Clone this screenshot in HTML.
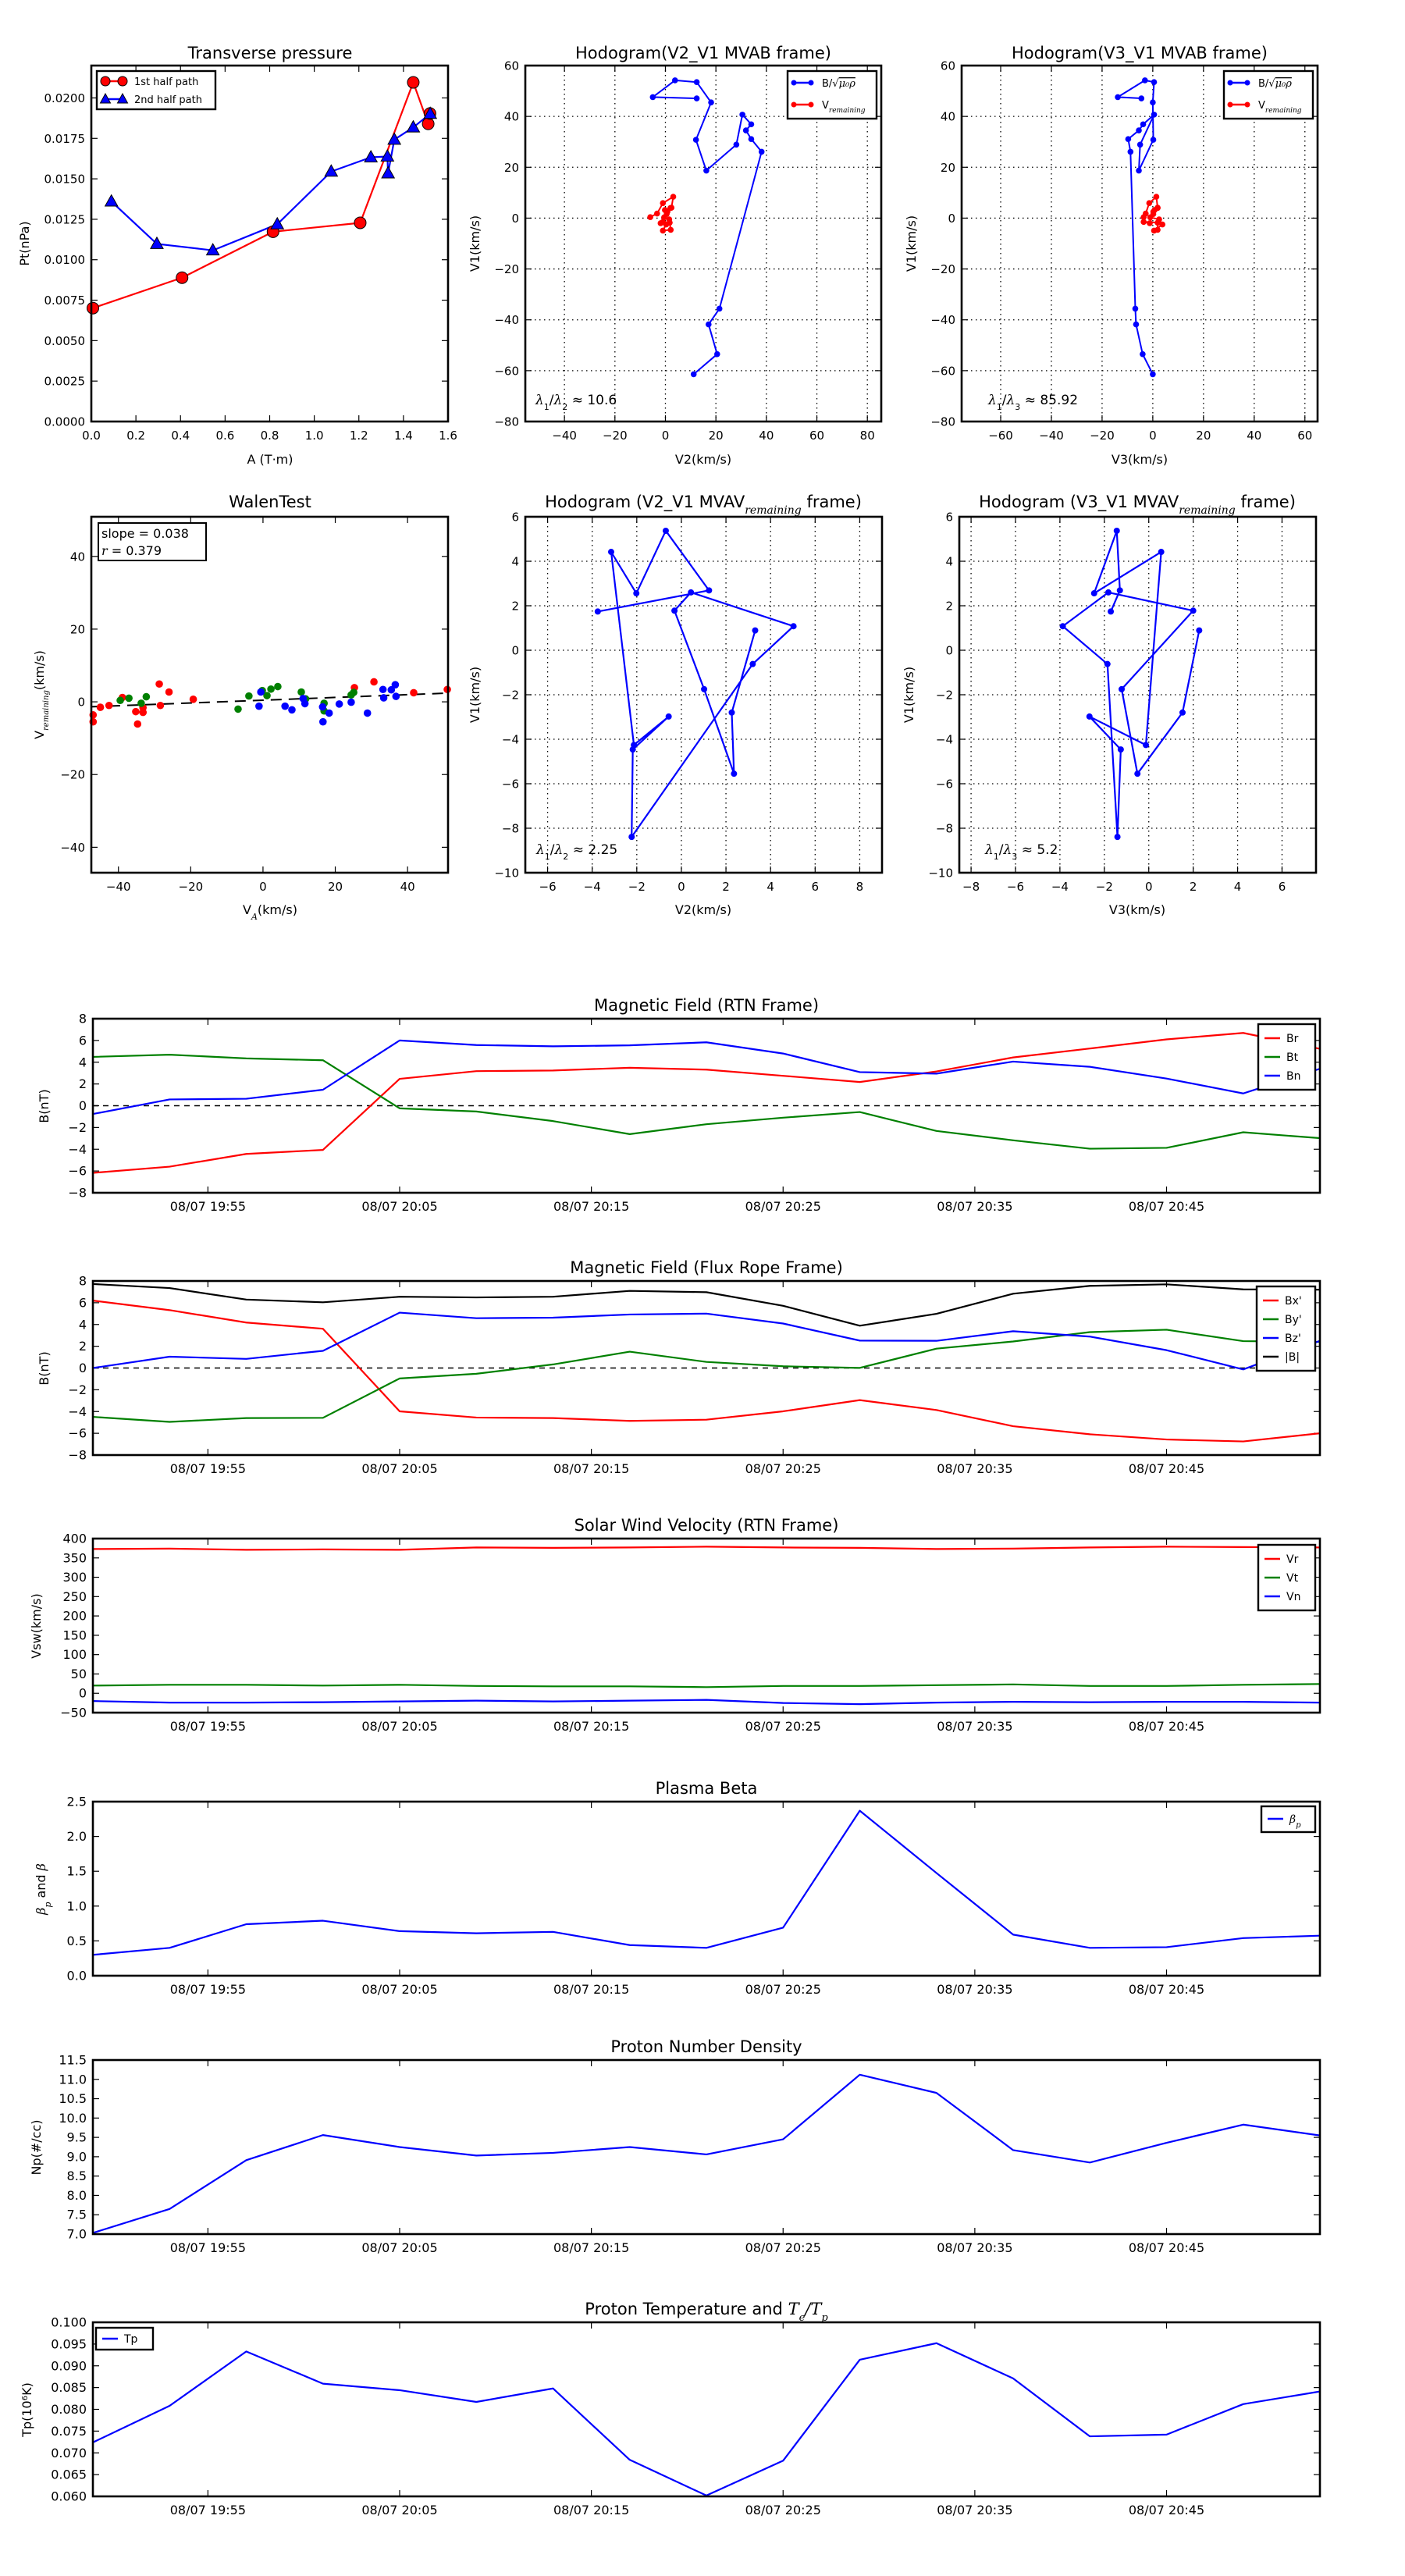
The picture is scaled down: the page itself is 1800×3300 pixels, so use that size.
<!DOCTYPE html>
<html><head><meta charset="utf-8"><title>Flux rope analysis</title>
<style>
html,body{margin:0;padding:0;background:#fff;}
svg{display:block;font-family:"DejaVu Sans","Liberation Sans",sans-serif;}
</style></head>
<body>
<svg id="fig" xmlns="http://www.w3.org/2000/svg" width="1800" height="3300" viewBox="0 0 1800 3300">
<rect x="0" y="0" width="1800" height="3300" fill="#fff"/>
<defs id="defs"></defs>
</svg>
<script>
// ---------- Transverse pressure data ----------
const ptHalf1A = [0.007, 0.407, 0.815, 1.206, 1.444, 1.511, 1.519];
const ptHalf1P = [0.00701, 0.00889, 0.01173, 0.01228, 0.02096, 0.01840, 0.01904];
const ptHalf2A = [0.09, 0.294, 0.545, 0.834, 1.076, 1.254, 1.328, 1.331, 1.359, 1.444, 1.52];
const ptHalf2P = [0.0136, 0.01098, 0.01058, 0.01219, 0.01545, 0.01633, 0.01638, 0.01534, 0.01742, 0.01818, 0.01902];
const ptXTicks = [0, 0.2, 0.4, 0.6, 0.8, 1.0, 1.2, 1.4, 1.6];
const ptYTicks = [0, 0.0025, 0.005, 0.0075, 0.01, 0.0125, 0.015, 0.0175, 0.02];
// ---------- MVAB hodogram data ----------
const mvabV1 = [-61.4, -53.5, -41.8, -35.6, 26.1, 31.1, 34.5, 36.9, 40.7, 28.9, 18.7, 30.8, 45.5, 53.5, 54.2, 47.6, 47.1];
const mvabV2 = [11.2, 20.5, 17.1, 21.4, 38.1, 34.0, 31.9, 34.0, 30.5, 28.1, 16.2, 12.1, 18.1, 12.4, 3.8, -5.0, 12.4];
const mvabV3 = [0.0, -4.0, -6.6, -6.9, -8.8, -9.7, -5.5, -3.8, 0.5, -5.0, -5.5, 0.2, 0.0, 0.5, -3.1, -13.8, -4.5];
const remV1 = [0.4, 1.8, 5.9, 8.4, 4.1, 3.2, 1.6, -2.0, -1.5, -1.8, -4.6, -4.9, -2.5, -0.5, 0.3, 2.5, 4.0];
const remV2 = [-6.0, -3.3, -1.0, 3.1, 2.4, -0.2, 0.5, -1.9, -1.0, 1.7, 2.1, -1.0, 0.3, 1.5, -0.5, 0.8, 2.0];
const remV3 = [-3.6, -2.8, -1.4, 1.4, 1.9, 0.7, 0.2, -1.2, -3.6, 1.9, 1.9, 0.5, 3.8, 2.5, -1.0, 0.2, 1.9];
// ---------- MVAV hodogram data ----------
const mvavV1 = [1.74, 2.69, 5.37, 2.56, 4.42, -4.26, -2.98, -4.46, -8.39, -0.62, 1.08, 2.60, 1.78, -1.75, -5.55, -2.80, 0.89];
const mvavV2 = [-3.75, 1.24, -0.70, -2.02, -3.15, -2.13, -0.57, -2.18, -2.23, 3.20, 5.03, 0.43, -0.31, 1.02, 2.36, 2.26, 3.31];
const mvavV3 = [-1.71, -1.30, -1.44, -2.46, 0.56, -0.13, -2.67, -1.26, -1.41, -1.86, -3.87, -1.82, 2.00, -1.22, -0.51, 1.52, 2.27];
// ---------- Walen test data ----------
const walenRedX = [-47, -47, -45, -42.6, -38.9, -35.2, -34.7, -33.2, -33.2, -28.7, -28.4, -26, -19.3, 25.3, 30.7, 41.7, 51];
const walenRedY = [-3.6, -5.5, -1.5, -1.0, 1.2, -2.7, -6.1, -1.6, -2.9, 4.9, -1.0, 2.7, 0.7, 3.9, 5.5, 2.5, 3.4];
const walenGreenX = [-39.5, -37.1, -33.7, -32.3, -6.9, -3.9, -0.2, 1.1, 2.2, 4.1, 10.6, 11.8, 16.9, 16.9, 24.4, 25.1];
const walenGreenY = [0.4, 1.0, -0.4, 1.4, -2.0, 1.6, 3.1, 1.7, 3.5, 4.2, 2.7, 0.8, -0.4, -2.5, 1.9, 2.6];
const walenBlueX = [-0.6, -1.1, 6.1, 8.0, 11.1, 11.6, 16.5, 16.6, 18.3, 21.1, 24.4, 28.9, 33.2, 33.4, 35.5, 36.6, 36.8];
const walenBlueY = [2.7, -1.2, -1.2, -2.2, 0.9, -0.5, -1.4, -5.5, -3.1, -0.6, -0.1, -3.1, 3.4, 1.1, 3.3, 4.7, 1.5];
const walenSlope = 0.038;
const walenIntercept = 0.45;
// ---------- Time series data ----------
const times = ['19:49','19:53','19:57','20:01','20:05','20:09','20:13','20:17','20:21','20:25','20:29','20:33','20:37','20:41','20:45','20:49','20:53'];
const timeTickLabels = ['08/07 19:55','08/07 20:05','08/07 20:15','08/07 20:25','08/07 20:35','08/07 20:45'];
const Br = [-6.17, -5.6, -4.43, -4.06, 2.47, 3.18, 3.24, 3.49, 3.32, 2.75, 2.18, 3.15, 4.44, 5.26, 6.1, 6.69, 5.23];
const Bt = [4.49, 4.69, 4.35, 4.18, -0.24, -0.53, -1.41, -2.61, -1.7, -1.1, -0.58, -2.32, -3.18, -3.95, -3.87, -2.44, -2.98];
const Bn = [-0.76, 0.58, 0.64, 1.47, 6.0, 5.58, 5.46, 5.55, 5.83, 4.8, 3.09, 2.95, 4.06, 3.58, 2.5, 1.13, 3.4];
const Bx = [6.2, 5.32, 4.18, 3.61, -3.98, -4.55, -4.6, -4.86, -4.75, -3.98, -2.95, -3.86, -5.35, -6.09, -6.57, -6.75, -6.0];
const By = [-4.49, -4.95, -4.6, -4.58, -0.96, -0.53, 0.33, 1.5, 0.56, 0.16, 0.01, 1.78, 2.44, 3.3, 3.52, 2.47, 2.4];
const Bz = [0.0, 1.04, 0.84, 1.58, 5.09, 4.58, 4.63, 4.92, 5.0, 4.09, 2.52, 2.5, 3.38, 2.89, 1.64, -0.13, 2.5];
const Bmag = [7.72, 7.35, 6.29, 6.04, 6.55, 6.49, 6.55, 7.09, 6.97, 5.72, 3.89, 4.98, 6.83, 7.55, 7.69, 7.23, 7.2];
const Vr = [373, 374, 371, 372, 371, 377, 376, 377, 379, 377, 376, 373, 374, 377, 379, 378, 377];
const Vt = [20, 22, 22, 20, 22, 19, 18, 18, 16, 19, 19, 21, 23, 19, 19, 22, 24];
const Vn = [-20, -24, -24, -23, -21, -19, -21, -19, -17, -25, -28, -24, -22, -23, -22, -22, -24];
const betaP = [0.30, 0.40, 0.74, 0.79, 0.64, 0.61, 0.63, 0.44, 0.40, 0.69, 2.37, 1.475, 0.59, 0.40, 0.41, 0.54, 0.575];
const Np = [7.03, 7.65, 8.91, 9.56, 9.25, 9.03, 9.1, 9.25, 9.06, 9.45, 11.12, 10.65, 9.17, 8.85, 9.36, 9.83, 9.55];
const Tp = [0.0724, 0.0808, 0.0933, 0.0859, 0.0844, 0.0817, 0.0848, 0.0684, 0.0602, 0.0682, 0.0914, 0.0952, 0.0871, 0.0738, 0.0742, 0.0812, 0.0841];

const NS = 'http://www.w3.org/2000/svg';
const svg = document.getElementById('fig');
const defs = document.getElementById('defs');
let clipCount = 0;
function mk(tag, parent) { const e = document.createElementNS(NS, tag); parent.appendChild(e); return e; }
function fmtNum(v, d) { const s = Math.abs(v).toFixed(d); return (v < -1e-12 ? '\u2212' : '') + s; }
function toMin(s) { const p = s.split(':'); return (+p[0]) * 60 + (+p[1]) - (19 * 60 + 49); }

function text(parent, x, y, s, size, anchor, name) {
  const t = mk('text', parent);
  t.setAttribute('x', x); t.setAttribute('y', y);
  t.setAttribute('font-size', size);
  t.setAttribute('text-anchor', anchor);
  t.textContent = s;
  
  
  return t;
}
function tspan(t, s, opts) {
  const ts = mk('tspan', t);
  ts.textContent = s;
  if (opts.sub) { ts.setAttribute('baseline-shift', 'sub'); }
  if (opts.size) ts.setAttribute('font-size', opts.size);
  if (opts.italic) { ts.setAttribute('font-style', 'italic'); ts.setAttribute('font-family', '"DejaVu Serif","Liberation Serif",serif'); }
  if (opts.over) ts.setAttribute('text-decoration', 'overline');
  return ts;
}

function axes(o) {
  const g = mk('g', svg);
  
  
  const sx = v => o.L + (v - o.xmin) / (o.xmax - o.xmin) * (o.R - o.L);
  const sy = v => o.B - (v - o.ymin) / (o.ymax - o.ymin) * (o.B - o.T);
  const cp = mk('clipPath', defs);
  const cid = 'clip' + (clipCount++);
  cp.setAttribute('id', cid);
  const cr = mk('rect', cp);
  cr.setAttribute('x', o.L); cr.setAttribute('y', o.T);
  cr.setAttribute('width', o.R - o.L); cr.setAttribute('height', o.B - o.T);
  const tickSize = o.tickSize || 15;
  // grid
  if (o.grid) {
    const gg = mk('g', g);
    
    
    o.xt.forEach(v => {
      const l = mk('line', gg);
      l.setAttribute('x1', sx(v)); l.setAttribute('x2', sx(v)); l.setAttribute('y1', o.T); l.setAttribute('y2', o.B);
      l.setAttribute('stroke', '#000'); l.setAttribute('stroke-width', 1.3); l.setAttribute('stroke-dasharray', '1.5,4.5');
    });
    o.yt.forEach(v => {
      const l = mk('line', gg);
      l.setAttribute('x1', o.L); l.setAttribute('x2', o.R); l.setAttribute('y1', sy(v)); l.setAttribute('y2', sy(v));
      l.setAttribute('stroke', '#000'); l.setAttribute('stroke-width', 1.3); l.setAttribute('stroke-dasharray', '1.5,4.5');
    });
  }
  // ticks
  const tg = mk('g', g);
  
  
  o.xt.forEach((v, i) => {
    const x = sx(v);
    [[o.B, o.B - 8], [o.T, o.T + 8]].forEach(p => {
      const l = mk('line', tg);
      l.setAttribute('x1', x); l.setAttribute('x2', x); l.setAttribute('y1', p[0]); l.setAttribute('y2', p[1]);
      l.setAttribute('stroke', '#000'); l.setAttribute('stroke-width', 1.2);
    });
    text(tg, x, o.B + 23, o.xlab[i], tickSize, 'middle', 'x-tick-label');
  });
  o.yt.forEach((v, i) => {
    const y = sy(v);
    [[o.L, o.L + 8], [o.R, o.R - 8]].forEach(p => {
      const l = mk('line', tg);
      l.setAttribute('x1', p[0]); l.setAttribute('x2', p[1]); l.setAttribute('y1', y); l.setAttribute('y2', y);
      l.setAttribute('stroke', '#000'); l.setAttribute('stroke-width', 1.2);
    });
    text(tg, o.L - 8, y + 5.5, o.ylab[i], tickSize, 'end', 'y-tick-label');
  });
  const data = mk('g', g);
  data.setAttribute('clip-path', 'url(#' + cid + ')');
  
  
  return { g, data, sx, sy, o };
}
function frame(ax) {
  const r = mk('rect', ax.g);
  r.setAttribute('x', ax.o.L); r.setAttribute('y', ax.o.T);
  r.setAttribute('width', ax.o.R - ax.o.L); r.setAttribute('height', ax.o.B - ax.o.T);
  r.setAttribute('fill', 'none'); r.setAttribute('stroke', '#000'); r.setAttribute('stroke-width', 2.6);
  
  
}
function polyline(ax, xs, ys, color, w, name) {
  const p = mk('polyline', ax.data);
  p.setAttribute('points', xs.map((x, i) => ax.sx(x).toFixed(2) + ',' + ax.sy(ys[i]).toFixed(2)).join(' '));
  p.setAttribute('fill', 'none'); p.setAttribute('stroke', color); p.setAttribute('stroke-width', w);
  p.setAttribute('stroke-linejoin', 'round');
  
  
  return p;
}
function dots(ax, xs, ys, color, r, name, stroke) {
  const gg = mk('g', ax.g);
  
  
  xs.forEach((x, i) => {
    const c = mk('circle', gg);
    c.setAttribute('cx', ax.sx(x)); c.setAttribute('cy', ax.sy(ys[i])); c.setAttribute('r', r);
    c.setAttribute('fill', color);
    if (stroke) { c.setAttribute('stroke', '#000'); c.setAttribute('stroke-width', 1); }
    
    
  });
}
function tris(ax, xs, ys, color, s, name) {
  const gg = mk('g', ax.g);
  
  
  xs.forEach((x, i) => {
    const cx = ax.sx(x), cy = ax.sy(ys[i]);
    const p = mk('polygon', gg);
    p.setAttribute('points', `${cx},${cy - s} ${cx - s * 0.95},${cy + s * 0.7} ${cx + s * 0.95},${cy + s * 0.7}`);
    p.setAttribute('fill', color); p.setAttribute('stroke', '#000'); p.setAttribute('stroke-width', 1);
    
    
  });
}
function legendBox(x, y, w, h, name) {
  const g = mk('g', svg);
  
  
  const r = mk('rect', g);
  r.setAttribute('x', x); r.setAttribute('y', y); r.setAttribute('width', w); r.setAttribute('height', h);
  r.setAttribute('fill', '#fff'); r.setAttribute('stroke', '#000'); r.setAttribute('stroke-width', 2.4);
  
  
  return g;
}
function legLine(g, x, y, len, color) {
  const l = mk('line', g);
  l.setAttribute('x1', x); l.setAttribute('x2', x + len); l.setAttribute('y1', y); l.setAttribute('y2', y);
  l.setAttribute('stroke', color); l.setAttribute('stroke-width', 2.6);
  
  
}
function ylabel(x, y, name) {
  const t = text(svg, 0, 0, '', 16, 'middle', name);
  t.setAttribute('transform', `translate(${x},${y}) rotate(-90)`);
  return t;
}
function rng(a, b, s) { const r = []; for (let v = a; v <= b + 1e-9; v += s) r.push(+v.toFixed(6)); return r; }

// ===== Panel 1: transverse pressure =====
(function () {
  const ax = axes({ name: 'transverse-pressure-chart', L: 117, R: 574, T: 84, B: 540, xmin: 0, xmax: 1.6, ymin: 0, ymax: 0.022,
    xt: ptXTicks, yt: ptYTicks, xlab: ptXTicks.map(v => v.toFixed(1)), ylab: ptYTicks.map(v => v.toFixed(4)) });
  polyline(ax, ptHalf1A, ptHalf1P, '#ff0000', 2.2, 'first-half-line');
  polyline(ax, ptHalf2A, ptHalf2P, '#0000ff', 2.2, 'second-half-line');
  dots(ax, ptHalf1A, ptHalf1P, '#ff0000', 7.5, 'first-half-markers', true);
  tris(ax, ptHalf2A, ptHalf2P, '#0000ff', 8.5, 'second-half-markers');
  frame(ax);
  text(svg, 346, 75, 'Transverse pressure', 21, 'middle', 'chart-title');
  text(svg, 346, 594, 'A (T\u00b7m)', 16, 'middle', 'x-axis-title');
  ylabel(37, 312, 'y-axis-title').textContent = 'Pt(nPa)';
  const lg = legendBox(124, 91, 152, 49, 'legend');
  legLine(lg, 135, 104, 22, '#ff0000');
  [135, 157].forEach(x => { const c = mk('circle', lg); c.setAttribute('cx', x); c.setAttribute('cy', 104); c.setAttribute('r', 6); c.setAttribute('fill', '#ff0000'); c.setAttribute('stroke', '#000'); });
  text(lg, 172, 109, '1st half path', 13, 'start', 'legend-entry');
  legLine(lg, 135, 127, 22, '#0000ff');
  [135, 157].forEach(x => { const p = mk('polygon', lg); p.setAttribute('points', `${x},${120} ${x - 6.5},${132} ${x + 6.5},${132}`); p.setAttribute('fill', '#0000ff'); p.setAttribute('stroke', '#000'); });
  text(lg, 172, 132, '2nd half path', 13, 'start', 'legend-entry');
})();

function lambdaText(x, y, d, val) {
  const t = text(svg, x, y, '', 17, 'start', 'eigenvalue-ratio');
  tspan(t, '\u03bb', { italic: true }); tspan(t, '1', { sub: true, size: 11 });
  tspan(t, '/', {}); tspan(t, '\u03bb', { italic: true }); tspan(t, d, { sub: true, size: 11 });
  tspan(t, ' \u2248 ' + val, {});
}
function mvabLegend(x, name) {
  const lg = legendBox(x, 91, 114, 61, name);
  legLine(lg, x + 8, 106, 22, '#0000ff');
  [x + 8, x + 30].forEach(cx => { const c = mk('circle', lg); c.setAttribute('cx', cx); c.setAttribute('cy', 106); c.setAttribute('r', 3.5); c.setAttribute('fill', '#0000ff'); });
  const t1 = text(lg, x + 44, 111, '', 13, 'start', 'legend-entry');
  tspan(t1, 'B/\u221a', {}); tspan(t1, '\u03bc\u2080\u03c1', { italic: true, over: true });
  legLine(lg, x + 8, 134, 22, '#ff0000');
  [x + 8, x + 30].forEach(cx => { const c = mk('circle', lg); c.setAttribute('cx', cx); c.setAttribute('cy', 134); c.setAttribute('r', 3.5); c.setAttribute('fill', '#ff0000'); });
  const t2 = text(lg, x + 44, 139, '', 13, 'start', 'legend-entry');
  tspan(t2, 'V', {}); tspan(t2, 'remaining', { sub: true, italic: true, size: 9 });
}
// ===== Panel 2: MVAB V2-V1 =====
(function () {
  const xt = rng(-40, 80, 20), yt = rng(-80, 60, 20);
  const ax = axes({ name: 'hodogram-v2-v1-mvab', L: 673, R: 1129, T: 84, B: 540, xmin: -55.5, xmax: 85.5, ymin: -80, ymax: 60, grid: true,
    xt, yt, xlab: xt.map(v => fmtNum(v, 0)), ylab: yt.map(v => fmtNum(v, 0)) });
  polyline(ax, mvabV2, mvabV1, '#0000ff', 2, 'b-hodogram-line');
  polyline(ax, remV2, remV1, '#ff0000', 2, 'v-remaining-line');
  dots(ax, mvabV2, mvabV1, '#0000ff', 3.8, 'b-hodogram-markers');
  dots(ax, remV2, remV1, '#ff0000', 3.8, 'v-remaining-markers');
  frame(ax);
  text(svg, 901, 75, 'Hodogram(V2_V1 MVAB frame)', 21, 'middle', 'chart-title');
  text(svg, 901, 594, 'V2(km/s)', 16, 'middle', 'x-axis-title');
  ylabel(614, 312, 'y-axis-title').textContent = 'V1(km/s)';
  lambdaText(686, 518, '2', '10.6');
  mvabLegend(1009, 'legend');
})();
// ===== Panel 3: MVAB V3-V1 =====
(function () {
  const xt = rng(-60, 60, 20), yt = rng(-80, 60, 20);
  const ax = axes({ name: 'hodogram-v3-v1-mvab', L: 1232, R: 1688, T: 84, B: 540, xmin: -75.4, xmax: 65, ymin: -80, ymax: 60, grid: true,
    xt, yt, xlab: xt.map(v => fmtNum(v, 0)), ylab: yt.map(v => fmtNum(v, 0)) });
  polyline(ax, mvabV3, mvabV1, '#0000ff', 2, 'b-hodogram-line');
  polyline(ax, remV3, remV1, '#ff0000', 2, 'v-remaining-line');
  dots(ax, mvabV3, mvabV1, '#0000ff', 3.8, 'b-hodogram-markers');
  dots(ax, remV3, remV1, '#ff0000', 3.8, 'v-remaining-markers');
  frame(ax);
  text(svg, 1460, 75, 'Hodogram(V3_V1 MVAB frame)', 21, 'middle', 'chart-title');
  text(svg, 1460, 594, 'V3(km/s)', 16, 'middle', 'x-axis-title');
  ylabel(1173, 312, 'y-axis-title').textContent = 'V1(km/s)';
  lambdaText(1266, 518, '3', '85.92');
  mvabLegend(1568, 'legend');
})();
// ===== Panel 4: Walen test =====
(function () {
  const xt = rng(-40, 40, 20), yt = rng(-40, 40, 20);
  const ax = axes({ name: 'walen-test-chart', L: 117, R: 574, T: 662, B: 1118, xmin: -47.5, xmax: 51.2, ymin: -47, ymax: 50.9,
    xt, yt, xlab: xt.map(v => fmtNum(v, 0)), ylab: yt.map(v => fmtNum(v, 0)) });
  dots(ax, walenRedX, walenRedY, '#ff0000', 4.8, 'walen-red-points');
  dots(ax, walenGreenX, walenGreenY, '#008000', 4.8, 'walen-green-points');
  dots(ax, walenBlueX, walenBlueY, '#0000ff', 4.8, 'walen-blue-points');
  const fx = [ax.o.xmin, ax.o.xmax];
  const fl = polyline(ax, fx, fx.map(x => walenSlope * x + walenIntercept), '#000', 2, 'fit-line');
  fl.setAttribute('stroke-dasharray', '14,9');
  frame(ax);
  text(svg, 346, 650, 'WalenTest', 21, 'middle', 'chart-title');
  const xl = text(svg, 346, 1171, '', 16, 'middle', 'x-axis-title');
  tspan(xl, 'V', {}); tspan(xl, 'A', { sub: true, italic: true, size: 11 }); tspan(xl, '(km/s)', {});
  const yl = ylabel(56, 890, 'y-axis-title');
  tspan(yl, 'V', {}); tspan(yl, 'remaining', { sub: true, italic: true, size: 10 }); tspan(yl, '(km/s)', {});
  const bx = mk('g', svg);
  
  
  const r = mk('rect', bx);
  r.setAttribute('x', 126); r.setAttribute('y', 670); r.setAttribute('width', 138); r.setAttribute('height', 48);
  r.setAttribute('fill', '#fff'); r.setAttribute('stroke', '#000'); r.setAttribute('stroke-width', 2);
  text(bx, 130, 689, 'slope = ' + walenSlope.toFixed(3), 16, 'start', 'slope-text');
  const rt = text(bx, 130, 711, '', 16, 'start', 'r-text');
  tspan(rt, 'r', { italic: true }); tspan(rt, ' = 0.379', {});
})();
// ===== Panel 5: MVAV V2-V1 =====
(function () {
  const xt = rng(-6, 8, 2), yt = rng(-10, 6, 2);
  const ax = axes({ name: 'hodogram-v2-v1-mvav', L: 673, R: 1130, T: 662, B: 1118, xmin: -7, xmax: 9, ymin: -10, ymax: 6, grid: true,
    xt, yt, xlab: xt.map(v => fmtNum(v, 0)), ylab: yt.map(v => fmtNum(v, 0)) });
  polyline(ax, mvavV2, mvavV1, '#0000ff', 2.2, 'v-hodogram-line');
  dots(ax, mvavV2, mvavV1, '#0000ff', 4, 'v-hodogram-markers');
  frame(ax);
  const t = text(svg, 901, 650, 'Hodogram (V2_V1 MVAV', 21, 'middle', 'chart-title');
  tspan(t, 'remaining', { sub: true, italic: true, size: 14 }); tspan(t, ' frame)', {});
  text(svg, 901, 1171, 'V2(km/s)', 16, 'middle', 'x-axis-title');
  ylabel(614, 890, 'y-axis-title').textContent = 'V1(km/s)';
  lambdaText(687, 1094, '2', '2.25');
})();
// ===== Panel 6: MVAV V3-V1 =====
(function () {
  const xt = rng(-8, 6, 2), yt = rng(-10, 6, 2);
  const ax = axes({ name: 'hodogram-v3-v1-mvav', L: 1229, R: 1686, T: 662, B: 1118, xmin: -8.53, xmax: 7.53, ymin: -10, ymax: 6, grid: true,
    xt, yt, xlab: xt.map(v => fmtNum(v, 0)), ylab: yt.map(v => fmtNum(v, 0)) });
  polyline(ax, mvavV3, mvavV1, '#0000ff', 2.2, 'v-hodogram-line');
  dots(ax, mvavV3, mvavV1, '#0000ff', 4, 'v-hodogram-markers');
  frame(ax);
  const t = text(svg, 1457, 650, 'Hodogram (V3_V1 MVAV', 21, 'middle', 'chart-title');
  tspan(t, 'remaining', { sub: true, italic: true, size: 14 }); tspan(t, ' frame)', {});
  text(svg, 1457, 1171, 'V3(km/s)', 16, 'middle', 'x-axis-title');
  ylabel(1170, 890, 'y-axis-title').textContent = 'V1(km/s)';
  lambdaText(1262, 1094, '3', '5.2');
})();

// ===== Time series =====
const tMin = times.map(toMin);
const tickMin = timeTickLabels.map(s => toMin(s.split(' ')[1]));
function tsPanel(cfg) {
  const ax = axes({ name: cfg.name, L: 119, R: 1691, T: cfg.T, B: cfg.T + 223, xmin: 0, xmax: 64, ymin: cfg.ymin, ymax: cfg.ymax,
    xt: tickMin, yt: cfg.yt, xlab: timeTickLabels, ylab: cfg.yt.map(v => fmtNum(v, cfg.dec)), tickSize: 16 });
  if (cfg.zero) {
    const z = polyline(ax, [0, 64], [0, 0], '#000', 1.6, 'zero-line');
    z.setAttribute('stroke-dasharray', '7,6');
  }
  cfg.series.forEach(s => polyline(ax, tMin, s.v, s.c, 2.2, s.n));
  frame(ax);
  text(svg, 905, cfg.T - 10, cfg.title, 21, 'middle', 'chart-title');
  return ax;
}
function tsLegend(x, y, w, entries, name) {
  const lg = legendBox(x, y, w, 12 + entries.length * 24, name);
  entries.forEach((e, i) => {
    const yy = y + 18 + i * 24;
    legLine(lg, x + 8, yy, 20, e.c);
    const t = text(lg, x + 36, yy + 5, '', 14, 'start', 'legend-entry');
    e.f(t);
  });
}
// Magnetic field RTN
tsPanel({ name: 'magnetic-field-rtn-chart', T: 1305, ymin: -8, ymax: 8, yt: rng(-8, 8, 2), dec: 0, zero: true, title: 'Magnetic Field (RTN Frame)',
  series: [{ v: Br, c: '#ff0000', n: 'br-line' }, { v: Bt, c: '#008000', n: 'bt-line' }, { v: Bn, c: '#0000ff', n: 'bn-line' }] });
ylabel(62, 1417, 'y-axis-title').textContent = 'B(nT)';
tsLegend(1612, 1312, 73, [
  { c: '#ff0000', f: t => tspan(t, 'Br', {}) }, { c: '#008000', f: t => tspan(t, 'Bt', {}) }, { c: '#0000ff', f: t => tspan(t, 'Bn', {}) }], 'legend');
// Flux rope frame
tsPanel({ name: 'magnetic-field-flux-rope-chart', T: 1641, ymin: -8, ymax: 8, yt: rng(-8, 8, 2), dec: 0, zero: true, title: 'Magnetic Field (Flux Rope Frame)',
  series: [{ v: Bx, c: '#ff0000', n: 'bx-line' }, { v: By, c: '#008000', n: 'by-line' }, { v: Bz, c: '#0000ff', n: 'bz-line' }, { v: Bmag, c: '#000000', n: 'bmag-line' }] });
ylabel(62, 1753, 'y-axis-title').textContent = 'B(nT)';
tsLegend(1610, 1648, 75, [
  { c: '#ff0000', f: t => tspan(t, "Bx'", {}) }, { c: '#008000', f: t => tspan(t, "By'", {}) },
  { c: '#0000ff', f: t => tspan(t, "Bz'", {}) }, { c: '#000000', f: t => tspan(t, '|B|', {}) }], 'legend');
// Velocity
tsPanel({ name: 'solar-wind-velocity-chart', T: 1971, ymin: -50, ymax: 400, yt: rng(-50, 400, 50), dec: 0, title: 'Solar Wind Velocity (RTN Frame)',
  series: [{ v: Vr, c: '#ff0000', n: 'vr-line' }, { v: Vt, c: '#008000', n: 'vt-line' }, { v: Vn, c: '#0000ff', n: 'vn-line' }] });
ylabel(52, 2083, 'y-axis-title').textContent = 'Vsw(km/s)';
tsLegend(1612, 1979, 73, [
  { c: '#ff0000', f: t => tspan(t, 'Vr', {}) }, { c: '#008000', f: t => tspan(t, 'Vt', {}) }, { c: '#0000ff', f: t => tspan(t, 'Vn', {}) }], 'legend');
// Beta
tsPanel({ name: 'plasma-beta-chart', T: 2308, ymin: 0, ymax: 2.5, yt: rng(0, 2.5, 0.5), dec: 1, title: 'Plasma Beta',
  series: [{ v: betaP, c: '#0000ff', n: 'beta-p-line' }] });
(function () {
  const yl = ylabel(58, 2420, 'y-axis-title');
  tspan(yl, '\u03b2', { italic: true }); tspan(yl, 'p', { sub: true, italic: true, size: 11 });
  tspan(yl, ' and ', {}); tspan(yl, '\u03b2', { italic: true });
})();
(function () {
  const lg = legendBox(1616, 2314, 69, 33, 'legend');
  legLine(lg, 1624, 2330, 20, '#0000ff');
  const t = text(lg, 1652, 2335, '', 14, 'start', 'legend-entry');
  tspan(t, '\u03b2', { italic: true }); tspan(t, 'p', { sub: true, italic: true, size: 10 });
})();
// Np
tsPanel({ name: 'proton-density-chart', T: 2639, ymin: 7, ymax: 11.5, yt: rng(7, 11.5, 0.5), dec: 1, title: 'Proton Number Density',
  series: [{ v: Np, c: '#0000ff', n: 'np-line' }] });
ylabel(52, 2751, 'y-axis-title').textContent = 'Np(#/cc)';
// Tp
(function () {
  tsPanel({ name: 'proton-temperature-chart', T: 2975, ymin: 0.06, ymax: 0.1, yt: rng(0.06, 0.1, 0.005), dec: 3, title: '',
    series: [{ v: Tp, c: '#0000ff', n: 'tp-line' }] });
  const t = text(svg, 905, 2965, 'Proton Temperature and ', 21, 'middle', 'chart-title');
  tspan(t, 'T', { italic: true }); tspan(t, 'e', { sub: true, italic: true, size: 13 });
  tspan(t, '/', { italic: true }); tspan(t, 'T', { italic: true }); tspan(t, 'p', { sub: true, italic: true, size: 13 });
  const yl = ylabel(40, 3087, 'y-axis-title');
  tspan(yl, 'Tp(10', {}); tspan(yl, '6', { size: 10, sub: false }).setAttribute('baseline-shift', 'super'); tspan(yl, 'K)', {});
  const lg = legendBox(123, 2982, 73, 28, 'legend');
  legLine(lg, 131, 2996, 20, '#0000ff');
  text(lg, 159, 3001, 'Tp', 14, 'start', 'legend-entry');
})();
</script>
</body></html>
